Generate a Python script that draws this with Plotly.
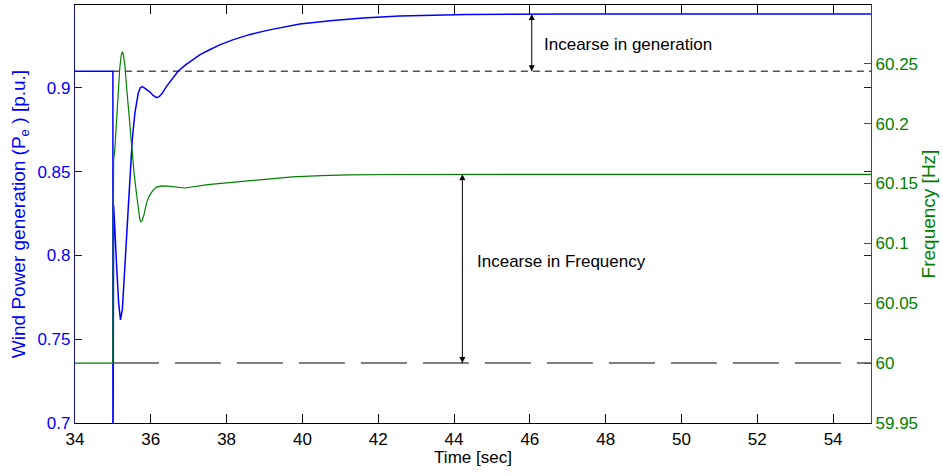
import plotly.graph_objects as go

# Wind power output Pe [p.u.] after the step at t = 35 s
t_pe = [34.0, 35.0, 35.0, 35.005, 35.02, 35.04, 35.07, 35.1, 35.15, 35.2, 35.25,
        35.32, 35.4, 35.47, 35.51, 35.58, 35.63, 35.67, 35.72, 35.77, 35.82, 35.88,
        35.98, 36.06, 36.15, 36.22, 36.3, 36.41, 36.55, 36.72, 36.9, 37.12, 37.29,
        37.55, 37.82, 38.16, 38.6, 39.1, 39.93, 40.8, 41.6, 42.56, 43.5, 44.33, 45.5,
        47.0, 55.0]
pe = [0.91, 0.91, 0.69, 0.69, 0.83, 0.82, 0.80, 0.793, 0.772, 0.7615, 0.768,
      0.7933, 0.8232, 0.853, 0.869, 0.885, 0.892, 0.897, 0.9, 0.9008, 0.9002, 0.8992,
      0.8975, 0.8955, 0.8942, 0.8948, 0.8968, 0.9008, 0.905, 0.91, 0.9135, 0.9167, 0.9197,
      0.9228, 0.9257, 0.9287, 0.9318, 0.9345, 0.9382, 0.9402, 0.9418, 0.9430, 0.9435,
      0.9438, 0.944, 0.9442, 0.9442]

# System frequency [Hz]
t_f = [34.0, 35.0, 35.01, 35.02, 35.05, 35.1, 35.14, 35.18, 35.22, 35.25, 35.28,
       35.32, 35.36, 35.43, 35.49, 35.56, 35.62, 35.67, 35.71, 35.74, 35.77, 35.82,
       35.89, 35.95, 36.05, 36.15, 36.28, 36.45, 36.7, 36.9, 37.5, 38.5, 39.4, 39.74,
       40.5, 41.2, 42.5, 44.7, 55.0]
freq = [60.0, 60.0, 60.12, 60.17, 60.178, 60.205, 60.231, 60.246, 60.257, 60.26, 60.257,
        60.247, 60.231, 60.205, 60.178, 60.158, 60.142, 60.127, 60.12, 60.118, 60.119, 60.124,
        60.134, 60.139, 60.144, 60.147, 60.148, 60.1477, 60.1466, 60.1462, 60.149, 60.152,
        60.1543, 60.1555, 60.1565, 60.1571, 60.1575, 60.1576, 60.1576]

# Reference levels before the disturbance
pe_ref = 0.91
f_ref = 60.0
t_ref = [35.0, 55.0]

# Arrow positions
t_gen_arrow = 46.05
pe_final = 0.9442
t_freq_arrow = 44.22
f_final = 60.1576

x_ticks = [34, 36, 38, 40, 42, 44, 46, 48, 50, 52, 54]
pe_ticks = [0.7, 0.75, 0.8, 0.85, 0.9]
pe_tick_text = ["0.7", "0.75", "0.8", "0.85", "0.9"]
f_ticks = [59.95, 60.0, 60.05, 60.1, 60.15, 60.2, 60.25]
f_tick_text = ["59.95", "60", "60.05", "60.1", "60.15", "60.2", "60.25"]

FONT = "Liberation Sans, Arial, Helvetica, sans-serif"
BLUE = "#0000ff"
GREEN = "#008000"

fig = go.Figure()

fig.add_trace(go.Scatter(x=t_ref, y=[pe_ref, pe_ref], mode="lines", yaxis="y",
                         line=dict(color="black", width=1, dash="7px,5px"),
                         hoverinfo="skip", showlegend=False))
fig.add_trace(go.Scatter(x=t_pe, y=pe, mode="lines", yaxis="y",
                         line=dict(color=BLUE, width=1.5),
                         showlegend=False))
fig.add_trace(go.Scatter(x=t_ref, y=[f_ref, f_ref], mode="lines", yaxis="y2",
                         line=dict(color="#555555", width=1.5, dash="46px,16px"),
                         hoverinfo="skip", showlegend=False))
fig.add_trace(go.Scatter(x=t_f, y=freq, mode="lines", yaxis="y2",
                         line=dict(color=GREEN, width=1.2),
                         showlegend=False))


def double_arrow(t, y_low, y_high, axis):
    """Vertical double-headed arrow between two levels."""
    return go.Scatter(x=[t, t], y=[y_low, y_high], yaxis=axis, mode="lines+markers",
                      line=dict(color="black", width=1),
                      marker=dict(symbol=["arrow-down", "arrow-up"], size=6,
                                  color="black", line=dict(width=0)),
                      hoverinfo="skip", showlegend=False)


fig.add_trace(double_arrow(t_gen_arrow, pe_ref, pe_final, "y"))
fig.add_trace(double_arrow(t_freq_arrow, f_ref, f_final, "y2"))

annotations = [
    dict(x=46.33, y=0.9257, xref="x", yref="y", text="Incearse in generation",
         showarrow=False, xanchor="left", yanchor="middle",
         font=dict(family=FONT, size=17, color="black")),
    dict(x=44.56, y=60.085, xref="x", yref="y2", text="Incearse in Frequency",
         showarrow=False, xanchor="left", yanchor="middle",
         font=dict(family=FONT, size=17, color="black")),
]

fig.update_layout(
    width=943, height=476,
    margin=dict(l=75, r=72, t=5, b=53),
    paper_bgcolor="white", plot_bgcolor="white",
    font=dict(family=FONT, size=17, color="black"),
    showlegend=False,
    annotations=annotations,
    xaxis=dict(range=[34, 55], tickvals=x_ticks, ticktext=[str(v) for v in x_ticks],
               ticks="inside", ticklen=9, tickcolor="black", tickwidth=1,
               showline=True, linecolor="black", linewidth=1.2, mirror="ticks",
               showgrid=False, zeroline=False,
               tickfont=dict(family=FONT, size=17, color="black"),
               title=dict(text="Time [sec]", standoff=2,
                          font=dict(family=FONT, size=17, color="black"))),
    yaxis=dict(range=[0.7, 0.9495], tickvals=pe_ticks, ticktext=pe_tick_text,
               ticks="inside", ticklen=7, tickcolor=BLUE, tickwidth=1,
               showline=True, linecolor="#12128a", linewidth=1.2, mirror="ticks",
               showgrid=False, zeroline=False,
               tickfont=dict(family=FONT, size=17, color=BLUE),
               title=dict(text="Wind Power generation (P<sub>e</sub> ) [p.u.]", standoff=6,
                          font=dict(family=FONT, size=19, color=BLUE))),
    yaxis2=dict(range=[59.95, 60.299], tickvals=f_ticks, ticktext=f_tick_text,
                overlaying="y", side="right",
                ticks="inside", ticklen=7, tickcolor=GREEN, tickwidth=1,
                showline=True, linecolor="#1f5a55", linewidth=1.2,
                showgrid=False, zeroline=False,
                tickfont=dict(family=FONT, size=17, color=GREEN),
                title=dict(text="Frequency [Hz]", standoff=4,
                           font=dict(family=FONT, size=19, color=GREEN))),
)

fig.write_html("out.html")
